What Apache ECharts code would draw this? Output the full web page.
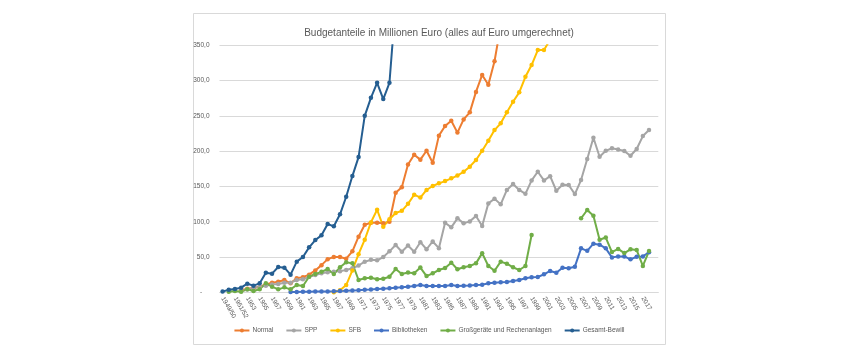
<!DOCTYPE html>
<html><head><meta charset="utf-8">
<script src="https://cdn.jsdelivr.net/npm/echarts@6/dist/echarts.min.js"></script>
<style>html,body{margin:0;padding:0;background:#fff}#c{width:858px;height:358px}</style>
</head><body><div id="c"></div>
<script>
const categories = ['1949/50','1950/51','1951/52','1952'];
for (let y = 1953; y <= 2019; y++) categories.push(String(y));

const normal = [null,null,null,3,5,6,8,11,13.6,15,17.4,12.7,19.8,21.5,25,31,38.5,47,50,50,47.6,58,78.8,95.8,98.6,98.6,97.7,100,141,149,181,195,188,200.6,183.6,222,235.6,243,226.3,245,255,284,308,294,327.4,378];
const spp = [null,null,null,2,4,6,8,9.4,11,11.8,13.6,13.6,17.4,18.4,22,24.5,27,28.3,29.2,30,31.6,34,38,43.4,46,45.3,50,58,67,57.5,66.3,57.5,71,61,72,62.5,98.6,92,104.8,97.7,100.5,108,94,126,132.5,124.6,145,153.4,145,139.5,158.5,170.8,158.5,164.5,143.9,152.5,152,139.2,159,188.8,219,192,200.6,204,202.5,200.1,193.5,203,221.4,229.9];
const sfb = [null,null,null,null,null,null,null,null,null,null,null,null,null,null,null,null,null,null,0,3,10.3,31,54,74.5,99,117,93,103.5,112.3,115.4,125.3,138.3,134.2,145,150.6,154.4,157.6,161.5,165.4,170.8,178,187.4,200.6,214.7,229.9,239.4,255,270,283.3,305.4,322,343.2,343.2,358];
const bibliotheken = [null,null,null,null,null,null,null,null,null,null,null,0.5,0.6,0.7,0.8,1,1.1,1.3,1.5,1.8,2.2,2.6,3,3.5,4,4.6,5.2,5.8,6.5,7.2,8,8.8,10.3,8.9,8.9,8.9,8.9,10.3,8.9,9.4,9.8,10.3,10.8,12.7,13.6,14.2,14.6,16,17.4,19.8,21.2,21.7,25.5,30.2,27.8,34.9,34,36.3,62.3,58.7,68.9,67.5,62.3,49.3,50.9,50.9,46.7,50.4,50.9,56.8];
const grossgeraete = [null,0.9,1.8,0.9,4.2,1.8,4.2,13,8,4.2,7,4.2,10.3,8.9,22,26,29,33,25.9,35.4,42.5,41,17.4,19.8,20.7,18.4,19.3,22.1,33,26,28,27,35,23,26.9,31.6,34.4,42,32.6,35.4,37.3,41,55.5,37.3,30.6,43.4,40.5,35.4,31.6,37.3,81.2,null,null,null,null,null,null,null,104.8,116.6,108.5,74.5,77.6,57,61.5,55.6,60.9,59.9,37.3,58.5];
const gesamt = [1,3.7,4.7,6.5,12.2,9.4,12.7,27.8,26.4,35.8,34.9,25,43.4,50,63.7,74,80.7,96.7,93.5,110.5,135.4,164.7,191.6,250.1,275.6,296.9,273.8,296.9,410];

const seriesNames = ['Normal','SPP','SFB','Bibliotheken','Großgeräte und Rechenanlagen','Gesamt-Bewill'];
const seriesData = [normal, spp, sfb, bibliotheken, grossgeraete, gesamt];
const colors = ['#ED7D31','#A5A5A5','#FFC000','#4472C4','#70AD47','#255E91'];
const yTicks = [0,50,100,150,200,250,300,350];

const font = 'Liberation Sans, Arial, sans-serif';
const chart = echarts.init(document.getElementById('c'), null, {renderer:'canvas'});
chart.setOption({
  animation: false,
  backgroundColor: '#fff',
  color: colors,
  title: {
    text: 'Budgetanteile in Millionen Euro (alles auf Euro umgerechnet)',
    left: 434, top: 23, textAlign: 'center',
    textStyle: {fontFamily: font, fontSize: 10, fontWeight: 'normal', color: '#595959'}
  },
  graphic: [{type:'rect', shape:{x:193.5,y:13.5,width:472,height:331}, style:{fill:'none', stroke:'#d9d9d9', lineWidth:1}, silent:true, z:-1}],
  legend: {
    bottom: 19, left: 'center', itemWidth: 15, itemHeight: 5, itemGap: 12,
    textStyle: {fontFamily: font, fontSize: 6.5, color: '#595959', padding:[0,0,0,-2]},
    data: seriesNames
  },
  grid: {left: 219.5, right: 199.7, top: 45.3, bottom: 65.7, containLabel: false},
  xAxis: {
    type: 'category', data: categories, boundaryGap: true,
    axisLine: {lineStyle: {color: '#d9d9d9'}}, axisTick: {show: false},
    axisLabel: {
      rotate: -60, margin: 5, fontFamily: font, fontSize: 6.5, color: '#595959',
      interval: (i) => i % 2 === 0 && i <= 68
    }
  },
  yAxis: {
    type: 'value', min: yTicks[0], max: yTicks[yTicks.length-1], interval: 50,
    axisLine: {show: false}, axisTick: {show: false},
    splitLine: {lineStyle: {color: '#d9d9d9', width: 1}},
    axisLabel: {
      margin: 10, fontFamily: font, fontSize: 6.5, color: '#595959',
      formatter: (v) => v === 0 ? '-    ' : v.toFixed(1).replace('.', ',')
    }
  },
  series: seriesNames.map((n, i) => ({
    name: n, type: 'line', data: seriesData[i], symbol: 'circle', symbolSize: 4.5,
    showAllSymbol: true, connectNulls: false, clip: true,
    lineStyle: {width: 2, color: colors[i]}, itemStyle: {color: colors[i]}
  }))
});
</script></body></html>
